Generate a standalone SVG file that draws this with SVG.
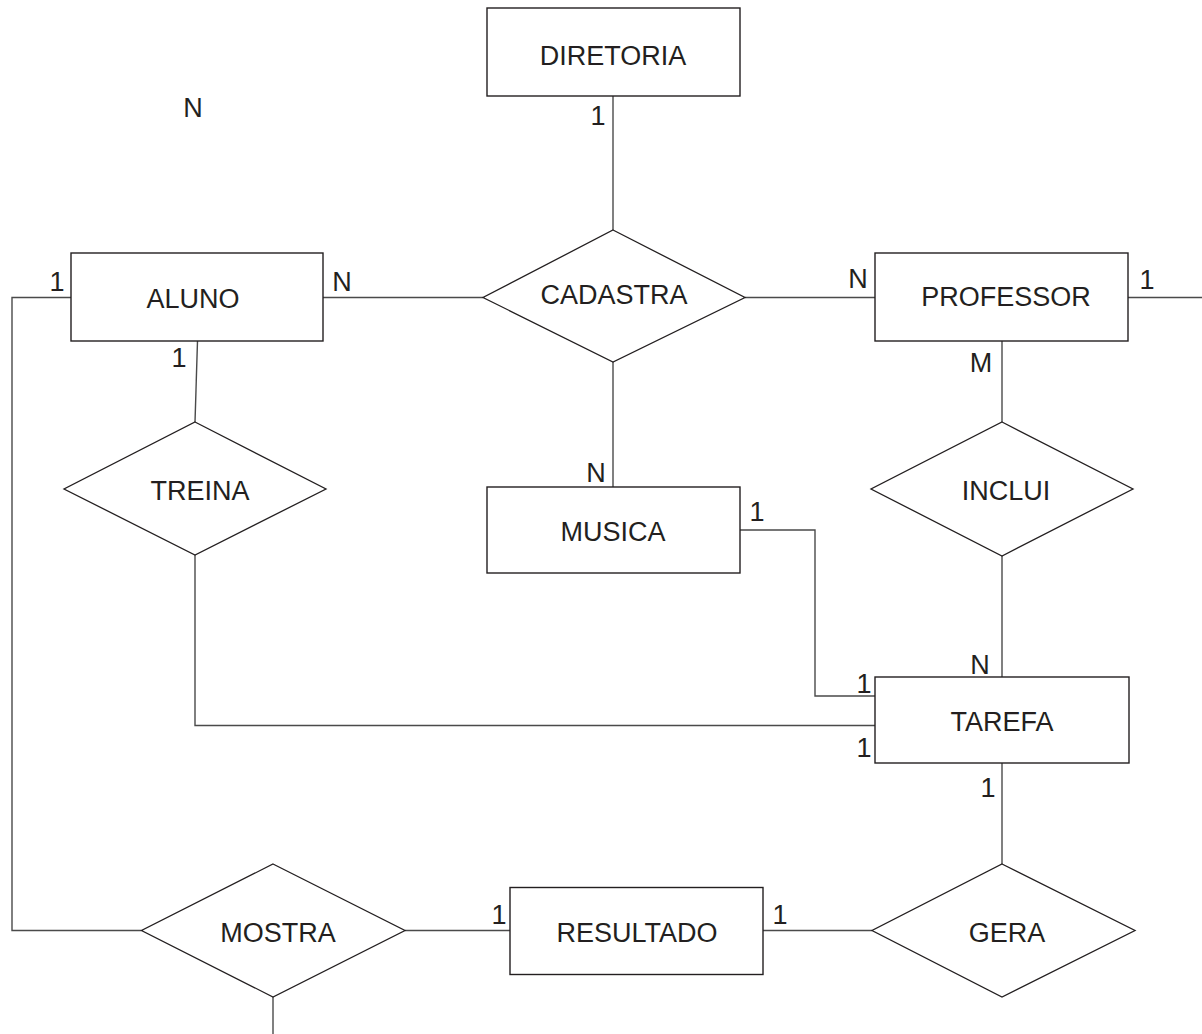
<svg xmlns="http://www.w3.org/2000/svg" width="1202" height="1034" viewBox="0 0 1202 1034">
  <style>
    .ent { fill: #ffffff; stroke: #231f20; stroke-width: 1.4; }
    .rel { fill: #ffffff; stroke: #231f20; stroke-width: 1.3; }
    .link { fill: none; stroke: #4a4a4a; stroke-width: 1.4; }
    text { font-family: "Liberation Sans", Arial, sans-serif; font-size: 27px; fill: #231f20; }
    .name { text-anchor: middle; }
    .card { text-anchor: middle; }
  </style>
  <rect width="1202" height="1034" fill="#ffffff"/>

  <!-- relationship lines -->
  <g id="connectors">
    <line class="link" x1="613" y1="96" x2="613" y2="230"/>
    <line class="link" x1="323" y1="297.5" x2="483" y2="297.5"/>
    <line class="link" x1="745" y1="297.5" x2="875" y2="297.5"/>
    <line class="link" x1="1128" y1="297.5" x2="1202" y2="297.5"/>
    <line class="link" x1="613" y1="362" x2="613" y2="487"/>
    <line class="link" x1="197.5" y1="341" x2="195" y2="422"/>
    <line class="link" x1="1002" y1="341" x2="1002" y2="422"/>
    <line class="link" x1="1002" y1="556" x2="1002" y2="677"/>
    <polyline class="link" points="740,530 815,530 815,696 875,696"/>
    <polyline class="link" points="195,555 195,725.5 875,725.5"/>
    <polyline class="link" points="71,297.5 12,297.5 12,930.5 141.5,930.5"/>
    <line class="link" x1="1002" y1="763" x2="1002" y2="864"/>
    <line class="link" x1="405" y1="930.5" x2="510" y2="930.5"/>
    <line class="link" x1="763" y1="930.5" x2="872" y2="930.5"/>
    <line class="link" x1="273" y1="997" x2="273" y2="1034"/>
  </g>

  <!-- entities -->
  <g id="diretoria">
    <rect class="ent" x="487" y="8" width="253" height="88"/>
    <text class="name" x="613" y="65">DIRETORIA</text>
  </g>
  <g id="aluno">
    <rect class="ent" x="71" y="253" width="252" height="88"/>
    <text class="name" x="193" y="308">ALUNO</text>
  </g>
  <g id="professor">
    <rect class="ent" x="875" y="253" width="253" height="88"/>
    <text class="name" x="1006" y="306">PROFESSOR</text>
  </g>
  <g id="musica">
    <rect class="ent" x="487" y="487" width="253" height="86"/>
    <text class="name" x="613" y="541">MUSICA</text>
  </g>
  <g id="tarefa">
    <rect class="ent" x="875" y="677" width="254" height="86"/>
    <text class="name" x="1002" y="731">TAREFA</text>
  </g>
  <g id="resultado">
    <rect class="ent" x="510" y="887.5" width="253" height="87"/>
    <text class="name" x="637" y="942">RESULTADO</text>
  </g>

  <!-- relationships -->
  <g id="cadastra">
    <polygon class="rel" points="613,230 745,297.5 613,362 483,297.5"/>
    <text class="name" x="614" y="304">CADASTRA</text>
  </g>
  <g id="treina">
    <polygon class="rel" points="195,422 326,489 195,555 64,489"/>
    <text class="name" x="200" y="500">TREINA</text>
  </g>
  <g id="inclui">
    <polygon class="rel" points="1002,422 1133,489 1002,556 871,489"/>
    <text class="name" x="1006" y="500">INCLUI</text>
  </g>
  <g id="mostra">
    <polygon class="rel" points="273,864 405,930.5 273,997 141.5,930.5"/>
    <text class="name" x="278" y="942">MOSTRA</text>
  </g>
  <g id="gera">
    <polygon class="rel" points="1002,864 1135,930.5 1002,997 872,930.5"/>
    <text class="name" x="1007" y="942">GERA</text>
  </g>

  <!-- cardinalities -->
  <g id="cardinalities">
    <text class="card" x="193" y="117">N</text>
    <text class="card" x="598" y="125">1</text>
    <text class="card" x="57" y="291">1</text>
    <text class="card" x="342" y="291">N</text>
    <text class="card" x="179" y="367">1</text>
    <text class="card" x="858" y="288">N</text>
    <text class="card" x="1147" y="289">1</text>
    <text class="card" x="981" y="372">M</text>
    <text class="card" x="596" y="482">N</text>
    <text class="card" x="757" y="521">1</text>
    <text class="card" x="980" y="674">N</text>
    <text class="card" x="864" y="693">1</text>
    <text class="card" x="864" y="757">1</text>
    <text class="card" x="988" y="797">1</text>
    <text class="card" x="499" y="924">1</text>
    <text class="card" x="780" y="924">1</text>
  </g>
</svg>
